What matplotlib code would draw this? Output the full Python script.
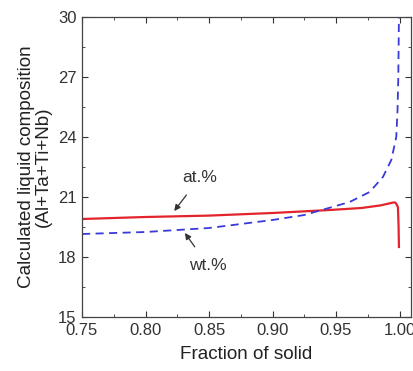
import numpy as np
import matplotlib
matplotlib.use("Agg")
import matplotlib.pyplot as plt
from matplotlib.ticker import MultipleLocator

plt.rcParams['font.family'] = ['Liberation Sans', 'DejaVu Sans']

# liquid composition vs fraction of solid
fs_at = [0.75, 0.80, 0.85, 0.90, 0.945, 0.97, 0.985, 0.9948, 0.996, 0.997, 0.9987, 0.9992, 0.9995]
c_at = [19.9, 20.0, 20.07, 20.2, 20.35, 20.45, 20.58, 20.72, 20.73, 20.7, 20.5, 19.6, 18.5]

fs_wt = [0.75, 0.80, 0.85, 0.90, 0.925, 0.947, 0.9607, 0.9764, 0.9869, 0.9935,
         0.9974, 0.9984, 0.999, 0.9995]
c_wt = [19.15, 19.25, 19.45, 19.85, 20.1, 20.5, 20.75, 21.25, 22.0, 22.85,
        24.0, 25.35, 27.0, 30.0]

fig = plt.figure(figsize=(4.14, 3.71), dpi=100)
ax = fig.add_axes([82/414, 1 - 317/371, (411 - 82)/414, 300/371])

ax.plot(fs_at, c_at, color='#e3242b', lw=1.6)
ax.plot(fs_wt, c_wt, color='#3a3ad8', lw=1.3, ls=(0, (4.5, 3)))

ax.set_xlim(0.75, 1.009)
ax.set_ylim(15, 30)
ax.xaxis.set_major_locator(MultipleLocator(0.05))
ax.xaxis.set_minor_locator(MultipleLocator(0.025))
ax.yaxis.set_major_locator(MultipleLocator(3))
ax.yaxis.set_minor_locator(MultipleLocator(1.5))
ax.xaxis.set_major_formatter(matplotlib.ticker.FormatStrFormatter('%.2f'))
ax.tick_params(which='both', direction='in', top=True, right=True,
               colors='#333333', labelsize=12, pad=4)
ax.tick_params(which='major', length=4)
ax.tick_params(which='minor', length=2.5)
for s in ax.spines.values():
    s.set_color('#444444')
    s.set_linewidth(0.9)

ax.set_xlabel('Fraction of solid', fontsize=13.6, color='#222222', labelpad=6)
ax.set_ylabel('Calculated liquid composition\n(Al+Ta+Ti+Nb)', fontsize=13.6,
              color='#222222', labelpad=4, linespacing=1.05)

ax.annotate('at.%', xy=(0.8226, 20.3), xytext=(0.843, 22.0), fontsize=12.5,
            color='#333333', ha='center', va='center',
            arrowprops=dict(arrowstyle='-|>', color='#333333', lw=0.9,
                            shrinkA=7, shrinkB=0, mutation_scale=9))
ax.annotate('wt.%', xy=(0.831, 19.2), xytext=(0.849, 17.6), fontsize=12.5,
            color='#333333', ha='center', va='center',
            arrowprops=dict(arrowstyle='-|>', color='#333333', lw=0.9,
                            shrinkA=7, shrinkB=0, mutation_scale=9))

fig.savefig('out.png', dpi=100)
